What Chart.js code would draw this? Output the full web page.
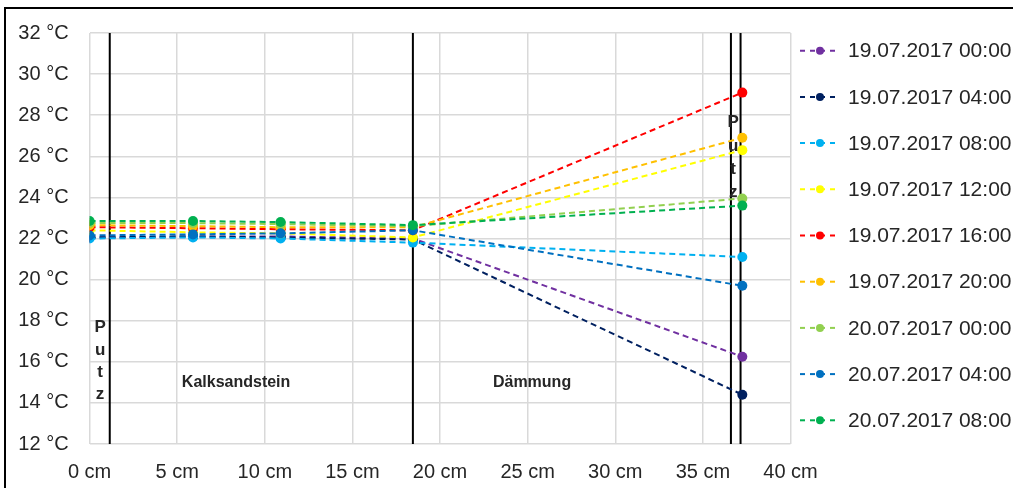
<!DOCTYPE html>
<html><head><meta charset="utf-8">
<script src="https://cdn.jsdelivr.net/npm/chart.js@4"></script>
<style>html,body{margin:0;padding:0;background:#fff}canvas{display:block}</style>
</head><body><canvas id="c" width="1013" height="488"></canvas>
<script>
// ---- data ----
const depthsCm = [0, 5.9, 10.9, 18.45, 37.25];
const seriesLabels = [
  '19.07.2017 00:00', '19.07.2017 04:00', '19.07.2017 08:00',
  '19.07.2017 12:00', '19.07.2017 16:00', '19.07.2017 20:00',
  '20.07.2017 00:00', '20.07.2017 04:00', '20.07.2017 08:00'
];
const t19_0000 = [22.05, 22.10, 22.10, 22.00, 16.25];
const t19_0400 = [22.05, 22.10, 22.05, 21.95, 14.40];
const t19_0800 = [22.00, 22.05, 22.00, 21.80, 21.10];
const t19_1200 = [22.40, 22.30, 22.25, 22.05, 26.30];
const t19_1600 = [22.55, 22.50, 22.45, 22.40, 29.10];
const t19_2000 = [22.65, 22.60, 22.55, 22.55, 26.90];
const t20_0000 = [22.75, 22.75, 22.70, 22.60, 23.95];
const t20_0400 = [22.15, 22.20, 22.25, 22.40, 19.70];
const t20_0800 = [22.85, 22.85, 22.80, 22.65, 23.60];
const seriesValues = [t19_0000, t19_0400, t19_0800, t19_1200, t19_1600, t19_2000, t20_0000, t20_0400, t20_0800];
const seriesColors = ['#7030A0', '#002060', '#00B0F0', '#FFFF00', '#FF0000', '#FFC000', '#92D050', '#0070C0', '#00B050'];
const layerBoundariesCm = [1.15, 18.45, 36.6, 37.15];
const xTickValues = [0, 5, 10, 15, 20, 25, 30, 35, 40];
const xTickLabels = ['0 cm', '5 cm', '10 cm', '15 cm', '20 cm', '25 cm', '30 cm', '35 cm', '40 cm'];
const yTickValues = [12, 14, 16, 18, 20, 22, 24, 26, 28, 30, 32];
const yTickLabels = ['12 °C', '14 °C', '16 °C', '18 °C', '20 °C', '22 °C', '24 °C', '26 °C', '28 °C', '30 °C', '32 °C'];
// annotation texts (position in data units: cm, °C)
const layerTexts = [
  {text: 'Kalksandstein', x: 8.36, y: 14.97},
  {text: 'Dämmung', x: 25.25, y: 14.97}
];
const putzLetters = ['P', 'u', 't', 'z'];
const putzLeft = {x: 0.6, y: [17.68, 16.57, 15.5, 14.4]};
const putzRight = {x: 36.73, y: [27.63, 26.5, 25.38, 24.24]};

const FONT = "'Liberation Sans', Arial, sans-serif";
const TXT = '#262626';

const datasets = seriesValues.map((vals, i) => ({
  label: seriesLabels[i],
  data: vals.map((v, k) => ({x: depthsCm[k], y: v})),
  showLine: true,
  borderColor: seriesColors[i],
  backgroundColor: seriesColors[i],
  borderWidth: 2,
  borderDash: [6, 4],
  pointRadius: 5,
  pointHoverRadius: 5,
  pointBorderWidth: 0,
  order: seriesValues.length - i,
  isSeries: true
}));
layerBoundariesCm.forEach(x => datasets.push({
  label: '',
  data: [{x: x, y: 12}, {x: x, y: 32}],
  showLine: true,
  borderColor: '#000',
  borderWidth: 2,
  pointRadius: 0,
  order: 100,
  isSeries: false
}));

const framePlugin = {
  id: 'frame',
  beforeDraw(chart) {
    const ctx = chart.ctx;
    ctx.save();
    ctx.fillStyle = '#fff';
    ctx.fillRect(0, 0, chart.width, chart.height);
    ctx.strokeStyle = '#000';
    ctx.lineWidth = 2;
    ctx.strokeRect(5, 8, chart.width + 50, chart.height + 50);
    ctx.restore();
  }
};

const annoPlugin = {
  id: 'anno',
  afterDatasetsDraw(chart) {
    const ctx = chart.ctx, xs = chart.scales.x, ys = chart.scales.y;
    ctx.save();
    ctx.fillStyle = TXT;
    ctx.textAlign = 'center';
    ctx.textBaseline = 'middle';
    ctx.font = 'bold 16px ' + FONT;
    layerTexts.forEach(t => ctx.fillText(t.text, xs.getPixelForValue(t.x), ys.getPixelForValue(t.y)));
    ctx.font = 'bold 17px ' + FONT;
    [putzLeft, putzRight].forEach(p => {
      putzLetters.forEach((l, k) => ctx.fillText(l, xs.getPixelForValue(p.x), ys.getPixelForValue(p.y[k])));
    });
    // legend
    const series = chart.data.datasets.filter(d => d.isSeries);
    series.forEach((d, i) => {
      const y = 50.7 + i * 46.2;
      ctx.strokeStyle = d.borderColor;
      ctx.lineWidth = 2;
      ctx.setLineDash([5, 5]);
      ctx.beginPath();
      ctx.moveTo(800, y);
      ctx.lineTo(840, y);
      ctx.stroke();
      ctx.setLineDash([]);
      ctx.fillStyle = d.backgroundColor;
      ctx.beginPath();
      ctx.arc(820, y, 4, 0, Math.PI * 2);
      ctx.fill();
      ctx.fillStyle = TXT;
      ctx.textAlign = 'left';
      ctx.font = '21px ' + FONT;
      ctx.fillText(d.label, 848, y + 1);
    });
    ctx.restore();
  }
};

new Chart(document.getElementById('c'), {
  type: 'scatter',
  data: {datasets},
  options: {
    responsive: false,
    animation: false,
    events: [],
    layout: {padding: {top: 31.5, right: 222.5, left: 0, bottom: 0}},
    plugins: {legend: {display: false}, tooltip: {enabled: false}},
    scales: {
      x: {
        type: 'linear', min: 0, max: 40,
        afterBuildTicks(s) { s.ticks = xTickValues.map(v => ({value: v})); },
        afterFit(s) { s.height = 44; },
        ticks: {
          padding: 16, color: TXT, font: {family: FONT, size: 20},
          maxRotation: 0, autoSkip: false,
          callback: v => xTickLabels[xTickValues.indexOf(v)]
        },
        grid: {color: '#d9d9d9', lineWidth: 1.5, drawTicks: false},
        border: {display: false}
      },
      y: {
        type: 'linear', min: 12, max: 32,
        afterBuildTicks(s) { s.ticks = yTickValues.map(v => ({value: v})); },
        afterFit(s) { s.width = 89.6; },
        ticks: {
          padding: 21, color: TXT, font: {family: FONT, size: 20},
          autoSkip: false,
          callback: v => yTickLabels[yTickValues.indexOf(v)]
        },
        grid: {color: '#d9d9d9', lineWidth: 1.5, drawTicks: false},
        border: {display: false}
      }
    }
  },
  plugins: [framePlugin, annoPlugin]
});
</script>
</body></html>
